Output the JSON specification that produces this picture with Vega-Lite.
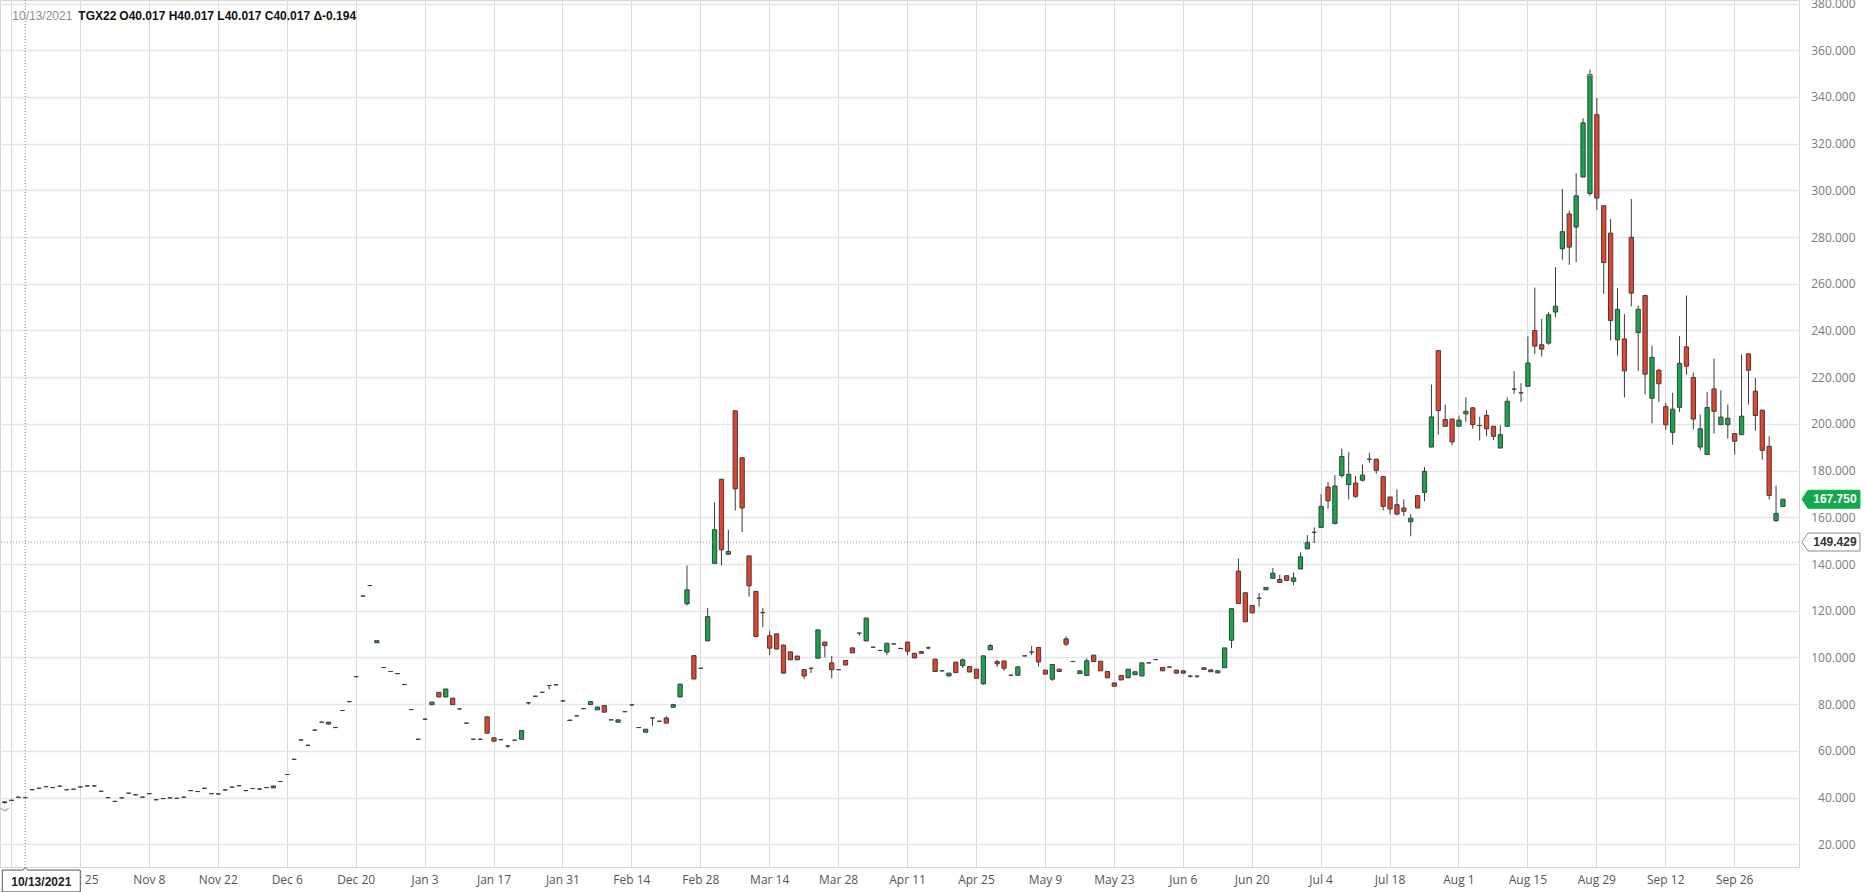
{
"$schema": "https://vega.github.io/schema/vega-lite/v6.json",
"width": 1799, "height": 867,
"autosize": {"type": "none"},
"padding": {"left": 0, "top": 0, "right": 65, "bottom": 25},
"background": "#ffffff",
"config": {"view": {"stroke": "#d6d6d6"}, "font": "Open Sans"},
"datasets": {
"ohlc": [
{"d":"2021-10-08","o":38.2,"h":38.3,"l":37.4,"c":37.9},
{"d":"2021-10-11","o":38.8,"h":39.0,"l":38.6,"c":38.9},
{"d":"2021-10-12","o":40.1,"h":40.4,"l":40.0,"c":40.21},
{"d":"2021-10-13","o":40.017,"h":40.017,"l":40.017,"c":40.017},
{"d":"2021-10-14","o":43.4,"h":43.6,"l":43.2,"c":43.4},
{"d":"2021-10-15","o":44.0,"h":44.2,"l":43.8,"c":44.0},
{"d":"2021-10-18","o":44.7,"h":44.9,"l":44.5,"c":44.7},
{"d":"2021-10-19","o":44.3,"h":44.5,"l":44.1,"c":44.3},
{"d":"2021-10-20","o":44.9,"h":45.1,"l":44.7,"c":44.9},
{"d":"2021-10-21","o":43.4,"h":43.6,"l":43.2,"c":43.4},
{"d":"2021-10-22","o":43.6,"h":43.8,"l":43.4,"c":43.6},
{"d":"2021-10-25","o":44.6,"h":44.8,"l":44.4,"c":44.6},
{"d":"2021-10-26","o":45.0,"h":45.2,"l":44.8,"c":45.0},
{"d":"2021-10-27","o":45.0,"h":45.2,"l":44.8,"c":45.0},
{"d":"2021-10-28","o":42.7,"h":42.9,"l":42.5,"c":42.7},
{"d":"2021-10-29","o":40.0,"h":40.2,"l":39.8,"c":40.0},
{"d":"2021-11-01","o":38.4,"h":38.6,"l":38.2,"c":38.4},
{"d":"2021-11-02","o":39.9,"h":40.1,"l":39.7,"c":39.9},
{"d":"2021-11-03","o":41.9,"h":42.1,"l":41.7,"c":41.9},
{"d":"2021-11-04","o":41.2,"h":41.4,"l":41.0,"c":41.2},
{"d":"2021-11-05","o":40.2,"h":40.4,"l":40.0,"c":40.2},
{"d":"2021-11-08","o":41.7,"h":41.9,"l":41.5,"c":41.7},
{"d":"2021-11-09","o":39.1,"h":39.3,"l":38.9,"c":39.1},
{"d":"2021-11-10","o":39.6,"h":39.8,"l":39.4,"c":39.6},
{"d":"2021-11-11","o":39.9,"h":40.1,"l":39.7,"c":39.9},
{"d":"2021-11-12","o":39.7,"h":39.9,"l":39.5,"c":39.7},
{"d":"2021-11-15","o":40.2,"h":40.4,"l":40.0,"c":40.2},
{"d":"2021-11-16","o":43.0,"h":43.2,"l":42.8,"c":43.0},
{"d":"2021-11-17","o":42.6,"h":42.8,"l":42.4,"c":42.6},
{"d":"2021-11-18","o":44.0,"h":44.2,"l":43.8,"c":44.0},
{"d":"2021-11-19","o":41.7,"h":41.9,"l":41.5,"c":41.7},
{"d":"2021-11-22","o":41.6,"h":41.8,"l":41.4,"c":41.6},
{"d":"2021-11-23","o":43.3,"h":43.5,"l":43.1,"c":43.3},
{"d":"2021-11-24","o":44.5,"h":44.7,"l":44.3,"c":44.5},
{"d":"2021-11-25","o":45.1,"h":45.3,"l":44.9,"c":45.1},
{"d":"2021-11-26","o":43.0,"h":43.2,"l":42.8,"c":43.0},
{"d":"2021-11-29","o":43.9,"h":44.1,"l":43.7,"c":43.9},
{"d":"2021-11-30","o":43.7,"h":43.9,"l":43.5,"c":43.7},
{"d":"2021-12-01","o":44.3,"h":44.5,"l":44.1,"c":44.3},
{"d":"2021-12-02","o":44.2,"h":45.1,"l":44.1,"c":45.0},
{"d":"2021-12-03","o":46.9,"h":47.1,"l":46.7,"c":46.9},
{"d":"2021-12-06","o":49.9,"h":50.1,"l":49.7,"c":49.9},
{"d":"2021-12-07","o":56.4,"h":56.6,"l":56.2,"c":56.4},
{"d":"2021-12-08","o":64.7,"h":64.9,"l":64.5,"c":64.7},
{"d":"2021-12-09","o":62.4,"h":62.6,"l":62.2,"c":62.4},
{"d":"2021-12-10","o":68.9,"h":69.1,"l":68.7,"c":68.9},
{"d":"2021-12-13","o":72.3,"h":72.5,"l":72.1,"c":72.3},
{"d":"2021-12-14","o":71.5,"h":72.4,"l":71.4,"c":72.3},
{"d":"2021-12-15","o":70.0,"h":70.2,"l":69.8,"c":70.0},
{"d":"2021-12-16","o":77.3,"h":77.5,"l":77.1,"c":77.3},
{"d":"2021-12-17","o":81.1,"h":81.3,"l":80.9,"c":81.1},
{"d":"2021-12-20","o":91.8,"h":92.0,"l":91.6,"c":91.8},
{"d":"2021-12-21","o":126.3,"h":126.5,"l":126.1,"c":126.3},
{"d":"2021-12-22","o":130.8,"h":131.0,"l":130.6,"c":130.8},
{"d":"2021-12-23","o":106.3,"h":107.3,"l":106.2,"c":107.2},
{"d":"2021-12-24","o":95.7,"h":95.9,"l":95.5,"c":95.7},
{"d":"2021-12-27","o":94.0,"h":94.2,"l":93.8,"c":94.0},
{"d":"2021-12-28","o":93.1,"h":93.3,"l":92.9,"c":93.1},
{"d":"2021-12-29","o":88.4,"h":88.6,"l":88.2,"c":88.4},
{"d":"2021-12-30","o":77.7,"h":77.9,"l":77.5,"c":77.7},
{"d":"2021-12-31","o":65.0,"h":65.2,"l":64.8,"c":65.0},
{"d":"2022-01-03","o":73.6,"h":73.8,"l":73.4,"c":73.6},
{"d":"2022-01-04","o":79.8,"h":81.0,"l":79.7,"c":80.9},
{"d":"2022-01-05","o":85.1,"h":85.2,"l":83.0,"c":83.1},
{"d":"2022-01-06","o":83.1,"h":86.6,"l":83.0,"c":86.5},
{"d":"2022-01-07","o":82.6,"h":82.7,"l":79.7,"c":79.8},
{"d":"2022-01-10","o":78.0,"h":78.2,"l":77.8,"c":78.0},
{"d":"2022-01-11","o":71.9,"h":72.1,"l":71.7,"c":71.9},
{"d":"2022-01-12","o":65.0,"h":65.2,"l":64.8,"c":65.0},
{"d":"2022-01-13","o":65.0,"h":65.2,"l":64.8,"c":65.0},
{"d":"2022-01-14","o":74.6,"h":74.7,"l":67.5,"c":67.6},
{"d":"2022-01-17","o":65.6,"h":65.7,"l":63.8,"c":64.2},
{"d":"2022-01-18","o":64.8,"h":65.0,"l":64.6,"c":64.8},
{"d":"2022-01-19","o":62.1,"h":62.3,"l":61.3,"c":62.1},
{"d":"2022-01-20","o":64.6,"h":64.8,"l":64.4,"c":64.6},
{"d":"2022-01-21","o":65.0,"h":68.8,"l":64.9,"c":68.7},
{"d":"2022-01-24","o":80.6,"h":80.8,"l":79.9,"c":80.6},
{"d":"2022-01-25","o":83.4,"h":83.6,"l":83.2,"c":83.4},
{"d":"2022-01-26","o":85.1,"h":85.3,"l":84.9,"c":85.1},
{"d":"2022-01-27","o":88.0,"h":88.2,"l":86.3,"c":88.0},
{"d":"2022-01-28","o":88.3,"h":88.5,"l":88.1,"c":88.3},
{"d":"2022-01-31","o":81.4,"h":81.6,"l":81.2,"c":81.4},
{"d":"2022-02-01","o":73.2,"h":73.3,"l":72.9,"c":73.0},
{"d":"2022-02-02","o":75.0,"h":75.2,"l":74.8,"c":75.0},
{"d":"2022-02-03","o":78.1,"h":78.3,"l":77.9,"c":78.1},
{"d":"2022-02-04","o":79.8,"h":81.2,"l":79.7,"c":81.1},
{"d":"2022-02-07","o":77.6,"h":78.9,"l":77.5,"c":78.8},
{"d":"2022-02-08","o":79.4,"h":79.5,"l":76.5,"c":76.6},
{"d":"2022-02-09","o":73.3,"h":73.5,"l":73.1,"c":73.3},
{"d":"2022-02-10","o":72.3,"h":73.4,"l":72.2,"c":73.3},
{"d":"2022-02-11","o":76.8,"h":77.0,"l":76.6,"c":76.8},
{"d":"2022-02-14","o":79.7,"h":79.9,"l":79.5,"c":79.7},
{"d":"2022-02-15","o":70.0,"h":70.2,"l":69.8,"c":70.0},
{"d":"2022-02-16","o":68.0,"h":69.4,"l":67.9,"c":69.3},
{"d":"2022-02-17","o":74.1,"h":74.3,"l":70.8,"c":74.1},
{"d":"2022-02-18","o":72.7,"h":72.9,"l":72.5,"c":72.7},
{"d":"2022-02-21","o":74.1,"h":74.8,"l":71.8,"c":71.9},
{"d":"2022-02-22","o":78.7,"h":79.9,"l":78.6,"c":79.8},
{"d":"2022-02-23","o":83.1,"h":88.7,"l":83.0,"c":88.6},
{"d":"2022-02-24","o":123.0,"h":139.4,"l":122.2,"c":129.0},
{"d":"2022-02-25","o":100.8,"h":101.0,"l":90.7,"c":90.8},
{"d":"2022-02-28","o":95.4,"h":95.6,"l":95.2,"c":95.4},
{"d":"2022-03-01","o":107.1,"h":121.2,"l":107.0,"c":117.5},
{"d":"2022-03-02","o":140.3,"h":166.5,"l":140.2,"c":154.7},
{"d":"2022-03-03","o":176.3,"h":176.5,"l":139.4,"c":146.1},
{"d":"2022-03-04","o":144.2,"h":154.7,"l":144.1,"c":145.4},
{"d":"2022-03-07","o":205.6,"h":205.8,"l":162.9,"c":172.2},
{"d":"2022-03-08","o":185.5,"h":185.7,"l":153.7,"c":164.0},
{"d":"2022-03-09","o":143.5,"h":143.7,"l":126.1,"c":130.7},
{"d":"2022-03-10","o":128.3,"h":128.5,"l":108.9,"c":109.0},
{"d":"2022-03-11","o":119.2,"h":121.1,"l":113.0,"c":119.2},
{"d":"2022-03-14","o":109.3,"h":111.5,"l":101.1,"c":104.0},
{"d":"2022-03-15","o":110.1,"h":110.3,"l":103.5,"c":103.6},
{"d":"2022-03-16","o":105.3,"h":105.5,"l":93.2,"c":93.3},
{"d":"2022-03-17","o":102.4,"h":102.5,"l":98.9,"c":99.0},
{"d":"2022-03-18","o":100.6,"h":100.7,"l":98.9,"c":99.0},
{"d":"2022-03-21","o":94.8,"h":94.9,"l":90.8,"c":92.1},
{"d":"2022-03-22","o":95.4,"h":95.6,"l":93.3,"c":95.4},
{"d":"2022-03-23","o":99.7,"h":111.9,"l":99.6,"c":111.8},
{"d":"2022-03-24","o":106.6,"h":106.7,"l":100.1,"c":105.1},
{"d":"2022-03-25","o":97.7,"h":100.7,"l":91.1,"c":94.8},
{"d":"2022-03-28","o":94.8,"h":95.0,"l":94.6,"c":94.8},
{"d":"2022-03-29","o":98.7,"h":98.8,"l":96.7,"c":96.8},
{"d":"2022-03-30","o":104.1,"h":104.2,"l":101.9,"c":102.0},
{"d":"2022-03-31","o":110.4,"h":110.6,"l":109.3,"c":110.4},
{"d":"2022-04-01","o":107.1,"h":117.0,"l":107.0,"c":116.9},
{"d":"2022-04-04","o":104.4,"h":104.6,"l":104.2,"c":104.4},
{"d":"2022-04-05","o":103.0,"h":103.2,"l":102.8,"c":103.0},
{"d":"2022-04-06","o":102.3,"h":106.2,"l":101.0,"c":106.1},
{"d":"2022-04-07","o":105.8,"h":106.0,"l":105.6,"c":105.8},
{"d":"2022-04-08","o":103.9,"h":104.1,"l":103.6,"c":103.8},
{"d":"2022-04-11","o":106.6,"h":106.7,"l":101.0,"c":102.7},
{"d":"2022-04-12","o":101.8,"h":101.9,"l":99.7,"c":99.8},
{"d":"2022-04-13","o":102.5,"h":102.6,"l":101.7,"c":101.8},
{"d":"2022-04-14","o":104.1,"h":104.8,"l":103.5,"c":104.1},
{"d":"2022-04-15","o":99.3,"h":99.4,"l":93.9,"c":94.0},
{"d":"2022-04-18","o":94.3,"h":94.5,"l":94.1,"c":94.3},
{"d":"2022-04-19","o":92.1,"h":93.4,"l":92.0,"c":93.3},
{"d":"2022-04-20","o":98.0,"h":98.1,"l":93.4,"c":93.5},
{"d":"2022-04-21","o":96.5,"h":99.6,"l":95.5,"c":99.0},
{"d":"2022-04-22","o":96.1,"h":96.2,"l":93.7,"c":93.8},
{"d":"2022-04-25","o":95.0,"h":95.1,"l":91.0,"c":91.1},
{"d":"2022-04-26","o":88.7,"h":100.8,"l":88.3,"c":100.7},
{"d":"2022-04-27","o":103.3,"h":105.7,"l":103.2,"c":105.1},
{"d":"2022-04-28","o":98.2,"h":99.0,"l":96.0,"c":97.3},
{"d":"2022-04-29","o":98.5,"h":98.6,"l":94.3,"c":95.4},
{"d":"2022-05-02","o":92.4,"h":92.6,"l":92.2,"c":92.4},
{"d":"2022-05-03","o":92.4,"h":96.1,"l":92.3,"c":96.0},
{"d":"2022-05-04","o":100.7,"h":100.9,"l":100.5,"c":100.7},
{"d":"2022-05-05","o":102.3,"h":104.9,"l":101.0,"c":102.3},
{"d":"2022-05-06","o":104.3,"h":104.4,"l":96.1,"c":98.1},
{"d":"2022-05-09","o":94.6,"h":94.7,"l":92.8,"c":92.9},
{"d":"2022-05-10","o":90.7,"h":97.1,"l":90.0,"c":97.0},
{"d":"2022-05-11","o":95.0,"h":95.1,"l":93.9,"c":94.0},
{"d":"2022-05-12","o":108.0,"h":109.1,"l":104.9,"c":105.7},
{"d":"2022-05-13","o":98.3,"h":98.5,"l":98.1,"c":98.3},
{"d":"2022-05-16","o":93.1,"h":94.4,"l":93.0,"c":94.3},
{"d":"2022-05-17","o":92.3,"h":99.7,"l":92.2,"c":98.6},
{"d":"2022-05-18","o":101.0,"h":101.1,"l":98.2,"c":98.3},
{"d":"2022-05-19","o":98.4,"h":98.5,"l":94.2,"c":94.3},
{"d":"2022-05-20","o":94.0,"h":94.1,"l":91.2,"c":91.3},
{"d":"2022-05-23","o":89.1,"h":89.2,"l":87.6,"c":87.7},
{"d":"2022-05-24","o":92.3,"h":92.4,"l":90.3,"c":90.4},
{"d":"2022-05-25","o":91.3,"h":95.1,"l":91.2,"c":95.0},
{"d":"2022-05-26","o":92.6,"h":94.0,"l":92.5,"c":93.9},
{"d":"2022-05-27","o":92.1,"h":97.8,"l":92.0,"c":97.7},
{"d":"2022-05-30","o":97.7,"h":97.9,"l":97.5,"c":97.7},
{"d":"2022-05-31","o":99.1,"h":99.3,"l":98.9,"c":99.1},
{"d":"2022-06-01","o":95.7,"h":95.8,"l":94.2,"c":94.3},
{"d":"2022-06-02","o":95.9,"h":96.1,"l":95.7,"c":95.9},
{"d":"2022-06-03","o":94.6,"h":94.7,"l":93.2,"c":93.3},
{"d":"2022-06-06","o":94.3,"h":94.4,"l":93.2,"c":93.3},
{"d":"2022-06-07","o":92.0,"h":92.6,"l":91.4,"c":92.0},
{"d":"2022-06-08","o":92.0,"h":92.2,"l":91.2,"c":92.0},
{"d":"2022-06-09","o":95.6,"h":95.7,"l":94.8,"c":94.9},
{"d":"2022-06-10","o":94.7,"h":94.8,"l":93.8,"c":93.9},
{"d":"2022-06-13","o":93.4,"h":94.4,"l":93.3,"c":94.3},
{"d":"2022-06-14","o":95.6,"h":104.2,"l":95.5,"c":104.1},
{"d":"2022-06-15","o":107.4,"h":121.0,"l":104.0,"c":120.9},
{"d":"2022-06-16","o":137.0,"h":142.4,"l":123.0,"c":123.1},
{"d":"2022-06-17","o":127.7,"h":127.8,"l":115.2,"c":115.3},
{"d":"2022-06-20","o":122.3,"h":122.4,"l":119.0,"c":119.1},
{"d":"2022-06-21","o":125.4,"h":127.6,"l":121.7,"c":125.4},
{"d":"2022-06-22","o":129.0,"h":130.1,"l":128.9,"c":130.0},
{"d":"2022-06-23","o":133.9,"h":138.3,"l":133.8,"c":136.1},
{"d":"2022-06-24","o":133.4,"h":135.4,"l":132.0,"c":132.1},
{"d":"2022-06-27","o":135.0,"h":135.1,"l":132.9,"c":133.0},
{"d":"2022-06-28","o":132.6,"h":136.4,"l":131.0,"c":134.1},
{"d":"2022-06-29","o":137.9,"h":145.0,"l":137.8,"c":143.1},
{"d":"2022-06-30","o":146.5,"h":152.4,"l":146.4,"c":149.3},
{"d":"2022-07-01","o":153.6,"h":155.7,"l":149.0,"c":153.6},
{"d":"2022-07-04","o":155.7,"h":170.0,"l":155.6,"c":164.7},
{"d":"2022-07-05","o":173.0,"h":175.1,"l":163.7,"c":167.1},
{"d":"2022-07-06","o":157.4,"h":178.1,"l":156.9,"c":173.4},
{"d":"2022-07-07","o":177.9,"h":189.4,"l":177.1,"c":186.0},
{"d":"2022-07-08","o":174.0,"h":187.9,"l":167.6,"c":178.4},
{"d":"2022-07-11","o":174.7,"h":177.7,"l":168.3,"c":169.0},
{"d":"2022-07-12","o":175.9,"h":182.6,"l":175.3,"c":178.1},
{"d":"2022-07-13","o":184.9,"h":187.6,"l":183.3,"c":184.9},
{"d":"2022-07-14","o":184.9,"h":185.0,"l":178.7,"c":180.1},
{"d":"2022-07-15","o":177.4,"h":177.5,"l":163.0,"c":164.7},
{"d":"2022-07-18","o":168.7,"h":168.8,"l":161.4,"c":163.6},
{"d":"2022-07-19","o":165.4,"h":172.0,"l":160.9,"c":161.4},
{"d":"2022-07-20","o":164.0,"h":167.7,"l":160.6,"c":162.6},
{"d":"2022-07-21","o":158.1,"h":161.4,"l":151.9,"c":159.6},
{"d":"2022-07-22","o":169.3,"h":169.4,"l":163.9,"c":164.0},
{"d":"2022-07-25","o":170.7,"h":181.6,"l":166.9,"c":179.7},
{"d":"2022-07-26","o":190.1,"h":216.9,"l":190.0,"c":203.0},
{"d":"2022-07-27","o":231.4,"h":231.5,"l":195.4,"c":205.7},
{"d":"2022-07-28","o":201.9,"h":208.3,"l":198.9,"c":199.0},
{"d":"2022-07-29","o":202.1,"h":202.2,"l":190.9,"c":192.3},
{"d":"2022-08-01","o":199.0,"h":203.6,"l":198.9,"c":201.6},
{"d":"2022-08-02","o":204.3,"h":211.4,"l":200.9,"c":205.4},
{"d":"2022-08-03","o":206.9,"h":207.0,"l":197.9,"c":199.7},
{"d":"2022-08-04","o":199.3,"h":203.0,"l":192.9,"c":199.3},
{"d":"2022-08-05","o":203.7,"h":205.9,"l":194.7,"c":197.9},
{"d":"2022-08-08","o":199.0,"h":199.1,"l":193.0,"c":194.7},
{"d":"2022-08-09","o":189.7,"h":199.4,"l":189.6,"c":195.4},
{"d":"2022-08-10","o":199.0,"h":211.4,"l":198.9,"c":209.7},
{"d":"2022-08-11","o":214.9,"h":222.6,"l":212.9,"c":214.9},
{"d":"2022-08-12","o":213.3,"h":217.4,"l":209.4,"c":213.3},
{"d":"2022-08-15","o":216.1,"h":237.5,"l":216.0,"c":226.1},
{"d":"2022-08-16","o":240.0,"h":258.4,"l":229.9,"c":233.3},
{"d":"2022-08-17","o":233.9,"h":244.9,"l":228.9,"c":232.0},
{"d":"2022-08-18","o":234.6,"h":247.9,"l":233.9,"c":246.7},
{"d":"2022-08-19","o":247.9,"h":267.1,"l":245.6,"c":250.4},
{"d":"2022-08-22","o":275.0,"h":300.6,"l":270.3,"c":282.3},
{"d":"2022-08-23","o":289.9,"h":291.4,"l":268.1,"c":275.7},
{"d":"2022-08-24","o":284.3,"h":307.4,"l":269.3,"c":297.7},
{"d":"2022-08-25","o":305.7,"h":330.9,"l":305.6,"c":328.9},
{"d":"2022-08-26","o":298.6,"h":351.7,"l":297.7,"c":349.6},
{"d":"2022-08-29","o":332.4,"h":339.6,"l":291.7,"c":296.7},
{"d":"2022-08-30","o":293.4,"h":293.5,"l":255.6,"c":269.1},
{"d":"2022-08-31","o":281.7,"h":287.7,"l":235.7,"c":244.3},
{"d":"2022-09-01","o":236.0,"h":258.1,"l":229.3,"c":249.1},
{"d":"2022-09-02","o":236.4,"h":247.0,"l":211.3,"c":222.7},
{"d":"2022-09-05","o":279.9,"h":296.3,"l":250.3,"c":256.0},
{"d":"2022-09-06","o":239.1,"h":250.6,"l":222.7,"c":249.1},
{"d":"2022-09-07","o":255.0,"h":255.1,"l":212.7,"c":221.3},
{"d":"2022-09-08","o":211.0,"h":233.6,"l":200.3,"c":228.5},
{"d":"2022-09-09","o":223.0,"h":223.6,"l":209.3,"c":217.2},
{"d":"2022-09-12","o":207.4,"h":209.0,"l":197.4,"c":199.6},
{"d":"2022-09-13","o":196.4,"h":213.3,"l":191.1,"c":206.3},
{"d":"2022-09-14","o":207.1,"h":237.6,"l":205.1,"c":225.9},
{"d":"2022-09-15","o":233.0,"h":255.0,"l":221.1,"c":224.7},
{"d":"2022-09-16","o":219.9,"h":221.9,"l":197.6,"c":202.1},
{"d":"2022-09-19","o":190.1,"h":204.0,"l":188.7,"c":197.9},
{"d":"2022-09-20","o":186.9,"h":213.6,"l":186.8,"c":207.0},
{"d":"2022-09-21","o":215.0,"h":228.0,"l":195.9,"c":205.4},
{"d":"2022-09-22","o":199.7,"h":214.4,"l":199.6,"c":202.9},
{"d":"2022-09-23","o":199.7,"h":208.3,"l":193.7,"c":202.4},
{"d":"2022-09-26","o":195.9,"h":196.0,"l":186.9,"c":192.6},
{"d":"2022-09-27","o":195.4,"h":229.7,"l":195.3,"c":203.3},
{"d":"2022-09-28","o":230.0,"h":230.1,"l":208.3,"c":223.0},
{"d":"2022-09-29","o":214.0,"h":219.7,"l":197.1,"c":203.6},
{"d":"2022-09-30","o":205.9,"h":206.0,"l":184.7,"c":188.7},
{"d":"2022-10-03","o":190.4,"h":194.7,"l":167.6,"c":169.4},
{"d":"2022-10-04","o":158.6,"h":173.7,"l":158.0,"c":161.7},
{"d":"2022-10-05","o":164.7,"h":167.8,"l":164.6,"c":167.75}
],
"crossX": [{"d":"2021-10-13","label":"10/13/2021","sym":"TGX22","ohlc":"O40.017 H40.017 L40.017 C40.017 Δ-0.194"}],
"crossY": [{"v":149.429}],
"tags": [
{"d":"2022-10-05","v":167.75,"label":"167.750","kind":"last"},
{"d":"2022-10-05","v":149.429,"label":"149.429","kind":"cross"}
],
"extremes": [
{"d":"2022-08-26","v":351.7,"kind":"high"},
{"d":"2021-10-08","v":37.4,"kind":"low"}
]
},
"layer": [
{"data": {"name": "ohlc"},
 "mark": {"type": "rule", "color": "#3a3a3a", "strokeWidth": 1},
 "encoding": {
  "x": {"field": "d", "type": "ordinal", "title": null,
        "scale": {"type": "band", "paddingInner": 0, "paddingOuter": 1.165, "align": 0.085},
        "axis": {"values": ["2021-10-11","2021-10-25","2021-11-08","2021-11-22","2021-12-06","2021-12-20","2022-01-03","2022-01-17","2022-01-31","2022-02-14","2022-02-28","2022-03-14","2022-03-28","2022-04-11","2022-04-25","2022-05-09","2022-05-23","2022-06-06","2022-06-20","2022-07-04","2022-07-18","2022-08-01","2022-08-15","2022-08-29","2022-09-12","2022-09-26"],
                 "labelExpr": "datum.value == '2021-10-11' ? '' : utcFormat(toDate(datum.value), '%b %-d')",
                 "bandPosition": 0.5, "grid": true, "gridColor": "#dadada", "gridWidth": 1,
                 "ticks": false, "domain": false, "labelAngle": 0, "labelPadding": 7,
                 "labelFont": "Open Sans", "labelFontSize": 12, "labelColor": "#555555", "labelOverlap": false}},
  "y": {"field": "l", "type": "quantitative", "title": null,
        "scale": {"domain": [10.3, 381.5], "nice": false, "zero": false},
        "axis": {"orient": "right", "values": [20,40,60,80,100,120,140,160,180,200,220,240,260,280,300,320,340,360,380],
                 "format": ".3f", "grid": true, "gridColor": "#e6e6e6", "gridWidth": 1.5,
                 "ticks": false, "domain": false, "labelAlign": "right", "labelPadding": 56,
                 "labelFont": "Open Sans", "labelFontSize": 12, "labelColor": "#7a7a7a", "labelOverlap": false}},
  "y2": {"field": "h"}
 }},
{"data": {"name": "ohlc"},
 "mark": {"type": "bar", "width": {"band": 0.62}, "stroke": "#3d3d3d", "strokeWidth": 1},
 "encoding": {
  "x": {"field": "d", "type": "ordinal"},
  "y": {"field": "o", "type": "quantitative"},
  "y2": {"field": "c"},
  "fill": {"condition": {"test": "datum.c >= datum.o", "value": "#14a84d"}, "value": "#e8432a"}
 }},
{"data": {"name": "extremes"},
 "mark": {"type": "point", "filled": false, "size": 64, "strokeWidth": 1, "opacity": 1},
 "encoding": {"x": {"field": "d", "type": "ordinal"}, "y": {"field": "v", "type": "quantitative"},
  "shape": {"condition": {"test": "datum.kind == 'high'", "value": "M-1,0.45 Q0,-0.9 1,0.45"}, "value": "M-1,-0.45 Q0,0.9 1,-0.45"},
  "yOffset": {"condition": {"test": "datum.kind == 'high'", "value": -9}, "value": 6},
  "stroke": {"condition": {"test": "datum.kind == 'high'", "value": "#5fc98a"}, "value": "#777777"}}},
{"data": {"name": "crossX"},
 "mark": {"type": "rule", "color": "#8a8a8a", "strokeDash": [1, 2], "strokeWidth": 1},
 "encoding": {"x": {"field": "d", "type": "ordinal"}}},
{"data": {"name": "crossY"},
 "mark": {"type": "rule", "color": "#8a8a8a", "strokeDash": [1, 2], "strokeWidth": 1},
 "encoding": {"y": {"field": "v", "type": "quantitative"}}},
{"data": {"name": "crossX"},
 "mark": {"type": "text", "font": "Liberation Sans", "fontSize": 12, "color": "#8c8c8c", "align": "left", "baseline": "middle", "xOffset": -13, "yOffset": 16},
 "encoding": {"x": {"field": "d", "type": "ordinal"}, "y": {"datum": 381.5}, "text": {"field": "label"}}},
{"data": {"name": "crossX"},
 "mark": {"type": "text", "font": "Liberation Sans", "fontSize": 12, "fontWeight": "bold", "color": "#111111", "align": "left", "baseline": "middle", "xOffset": 53, "yOffset": 16},
 "encoding": {"x": {"field": "d", "type": "ordinal"}, "y": {"datum": 381.5}, "text": {"field": "sym"}}},
{"data": {"name": "crossX"},
 "mark": {"type": "text", "font": "Liberation Sans", "fontSize": 12, "fontWeight": "bold", "color": "#111111", "align": "left", "baseline": "middle", "xOffset": 94, "yOffset": 16},
 "encoding": {"x": {"field": "d", "type": "ordinal"}, "y": {"datum": 381.5}, "text": {"field": "ohlc"}}},
{"data": {"name": "crossX"},
 "mark": {"type": "point", "shape": "M-1,-0.28 L-0.47,-0.28 L-0.41,-0.35 L-0.35,-0.28 L1,-0.28 L1,0.28 L-1,0.28 Z", "size": 6084, "filled": true, "fill": "#ffffff", "stroke": "#555555", "strokeWidth": 1, "opacity": 1, "xOffset": 16, "yOffset": 14},
 "encoding": {"x": {"field": "d", "type": "ordinal"}, "y": {"datum": 10.3}}},
{"data": {"name": "crossX"},
 "mark": {"type": "text", "font": "Liberation Sans", "fontSize": 12, "fontWeight": "bold", "color": "#222222", "xOffset": 16, "yOffset": 15, "baseline": "middle", "align": "center"},
 "encoding": {"x": {"field": "d", "type": "ordinal"}, "y": {"datum": 10.3}, "text": {"field": "label"}}},
{"data": {"name": "tags"},
 "mark": {"type": "point", "shape": "M-1,0 L-0.79,-0.31 L1,-0.31 L1,0.31 L-0.79,0.31 Z", "size": 3364, "filled": true, "strokeWidth": 1, "opacity": 1, "xOffset": 48},
 "encoding": {"x": {"field": "d", "type": "ordinal"}, "y": {"field": "v", "type": "quantitative"},
  "fill": {"condition": {"test": "datum.kind == 'last'", "value": "#14a84d"}, "value": "#ffffff"},
  "stroke": {"condition": {"test": "datum.kind == 'last'", "value": "#14a84d"}, "value": "#8a8a8a"}}},
{"data": {"name": "tags"},
 "mark": {"type": "text", "font": "Liberation Sans", "fontSize": 12, "fontWeight": "bold", "xOffset": 52, "baseline": "middle", "align": "center"},
 "encoding": {"x": {"field": "d", "type": "ordinal"}, "y": {"field": "v", "type": "quantitative"}, "text": {"field": "label"},
  "color": {"condition": {"test": "datum.kind == 'last'", "value": "#ffffff"}, "value": "#333333"}}}
]
}
